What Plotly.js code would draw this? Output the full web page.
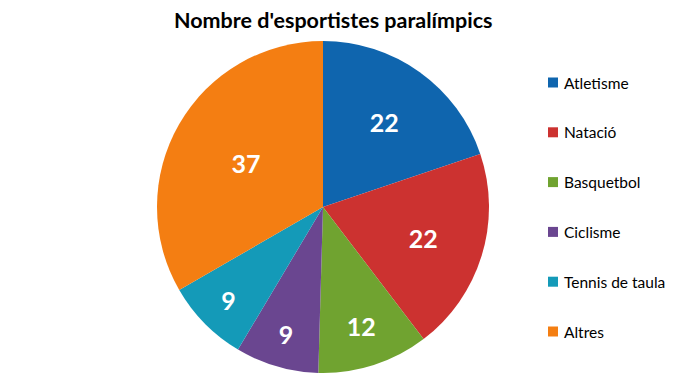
<!DOCTYPE html>
<html>
<head>
<meta charset="utf-8">
<script src="https://cdn.plot.ly/plotly-3.0.1.min.js"></script>
<style>html,body{margin:0;padding:0;background:#fff;}#chart{width:680px;height:383px;}</style>
</head>
<body>
<div id="chart"></div>
<script>
const labels = ["Atletisme", "Natació", "Basquetbol", "Ciclisme", "Tennis de taula", "Altres"];
const values = [22, 22, 12, 9, 9, 37];
const colors = ["#0F65AE", "#CC3230", "#70A330", "#6A4690", "#149AB8", "#F47E12"];
const titleText = "Nombre d'esportistes paralímpics";

const W = 680, H = 383;
const cx = 323, cy = 207, R = 166;

const trace = {
  type: "pie",
  labels: labels,
  values: values,
  sort: false,
  direction: "clockwise",
  rotation: 0,
  marker: {colors: colors, line: {width: 0}},
  textinfo: "value",
  textposition: "inside",
  insidetextorientation: "horizontal",
  textfont: {family: "Lato, 'Open Sans', sans-serif", size: 25, color: "#ffffff", weight: "bold"},
  domain: {x: [(cx - R) / W, (cx + R) / W], y: [1 - (cy + R) / H, 1 - (cy - R) / H]},
  showlegend: false,
  hoverinfo: "label+value"
};

const annotations = [{
  text: "<b>" + titleText + "</b>",
  xref: "paper", yref: "paper", x: 333 / W, y: 1 - 20 / H,
  xanchor: "center", yanchor: "middle", showarrow: false,
  font: {family: "Lato, 'Open Sans', sans-serif", size: 21.5, color: "#000"}
}];
const shapes = [];
const legY0 = 82.5, legStep = 49.8;
labels.forEach((lab, i) => {
  const yc = legY0 + i * legStep;
  shapes.push({type: "rect", xref: "paper", yref: "paper",
    x0: 548 / W, x1: 558 / W, y0: 1 - (yc + 5) / H, y1: 1 - (yc - 5) / H,
    fillcolor: colors[i], line: {width: 0}});
  annotations.push({text: lab, xref: "paper", yref: "paper",
    x: 562 / W, y: 1 - yc / H, xanchor: "left", yanchor: "middle", showarrow: false,
    font: {family: "Lato, 'Open Sans', sans-serif", size: 15.5, color: "#000"}});
});

Plotly.newPlot("chart", [trace], {
  width: W, height: H,
  margin: {l: 0, r: 0, t: 0, b: 0},
  paper_bgcolor: "#fff",
  annotations: annotations,
  shapes: shapes
}, {displayModeBar: false, staticPlot: true});
</script>
</body>
</html>
